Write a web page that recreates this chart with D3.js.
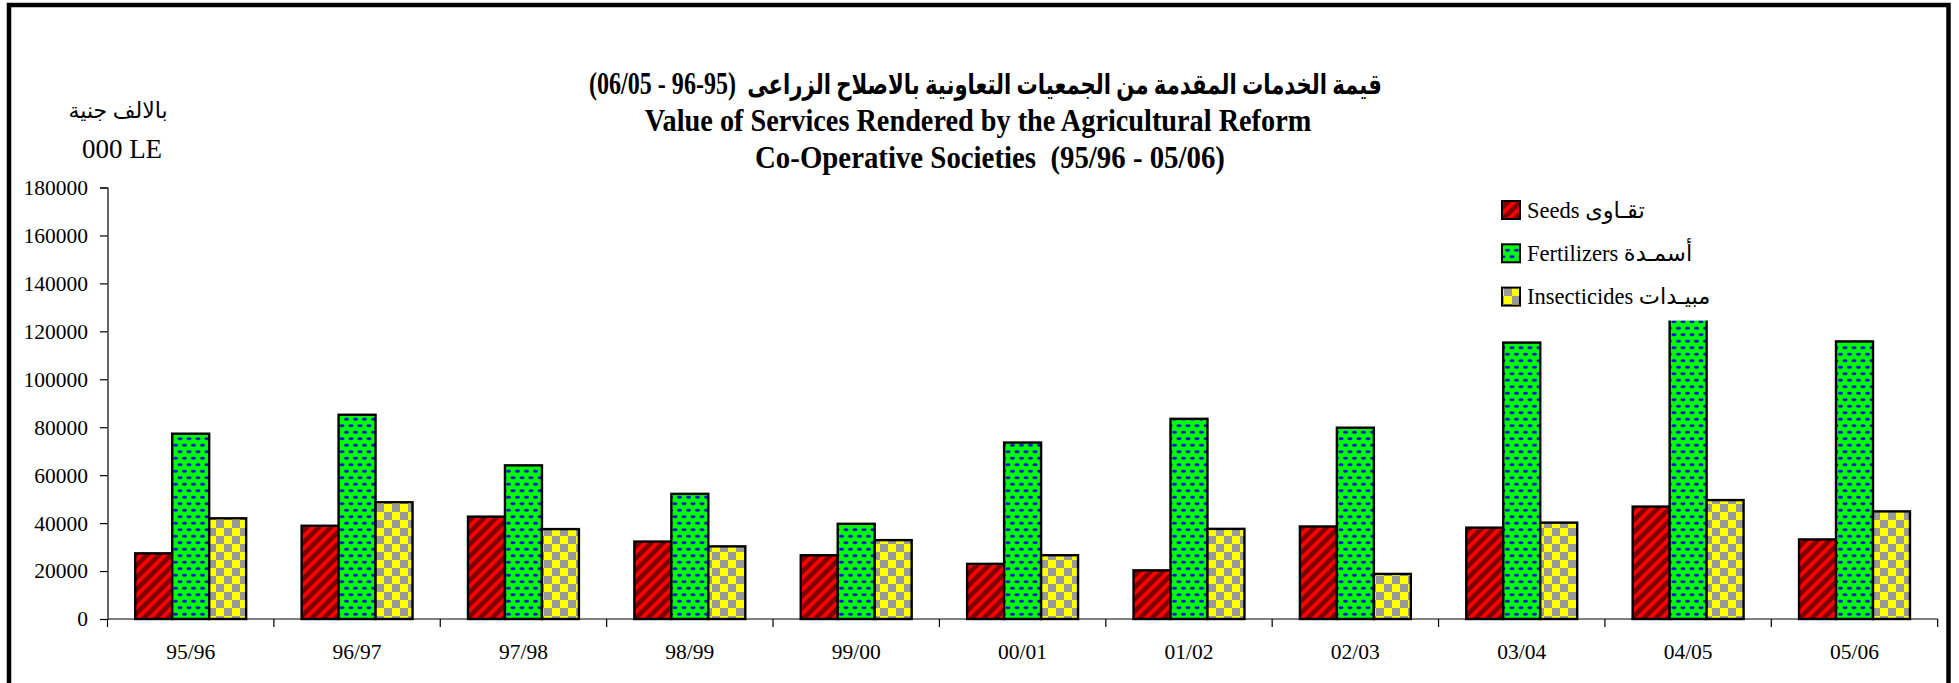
<!DOCTYPE html>
<html>
<head>
<meta charset="utf-8">
<script src="https://cdn.jsdelivr.net/npm/d3@7"></script>
<style>
  body { margin: 0; background: #fff; }
  svg { display: block; }
  text { font-family: "Liberation Serif", "Times New Roman", "DejaVu Sans", serif; fill: #000; white-space: pre; }
</style>
</head>
<body>
<svg width="1959" height="683"></svg>
<script>
// seasons on the x axis
let seasons = ["95/96", "96/97", "97/98", "98/99", "99/00", "00/01", "01/02", "02/03", "03/04", "04/05", "05/06"];

// values in 000 LE
let seeds        = [27400, 38900, 42700, 32300, 26600, 23000, 20300, 38600, 38100, 46900, 33200];
let fertilizers  = [77300, 85200, 64100, 52200, 39700, 73600, 83500, 79800, 115300, 131000, 115800];
let insecticides = [42000, 48700, 37500, 30300, 32900, 26600, 37600, 18800, 40200, 49600, 44900];

let seriesNames = ["Seeds تقـاوى", "Fertilizers أسمـدة", "Insecticides مبيـدات"];
let yTicks = [0, 20000, 40000, 60000, 80000, 100000, 120000, 140000, 160000, 180000];

let titleAr = "قيمة الخدمات المقدمة من الجمعيات التعاونية بالاصلاح الزراعى";
let titleArYears = "(06/05 - 96-95)";
let titleEn1 = "Value of Services Rendered by the Agricultural Reform";
let titleEn2 = "Co-Operative Societies  (95/96 - 05/06)";

var drawChart = function() {
  let svg = d3.select("svg");
  let margin = { left: 107.5, right: 1937.7, top: 187.5, bottom: 619 };

  // fill patterns like the excel ones
  let defs = svg.append("defs");

  let pSeeds = defs.append("pattern").attr("id", "pSeeds")
    .attr("patternUnits", "userSpaceOnUse").attr("width", 12).attr("height", 12);
  pSeeds.append("rect").attr("width", 12).attr("height", 12).attr("fill", "#800000");
  pSeeds.append("path")
    .attr("d", "M-3,3 L3,-3 M0,12 L12,0 M9,15 L15,9")
    .attr("stroke", "#ff0000").attr("stroke-width", 3.8);

  let pFert = defs.append("pattern").attr("id", "pFert")
    .attr("patternUnits", "userSpaceOnUse").attr("width", 9).attr("height", 13);
  pFert.append("rect").attr("width", 9).attr("height", 13).attr("fill", "#00ff00");
  [[4.5, 3.2], [0, 9.7], [9, 9.7]].forEach(function(p) {
    pFert.append("ellipse").attr("cx", p[0]).attr("cy", p[1]).attr("rx", 2.4).attr("ry", 1.3)
      .attr("fill", "#0000ff").attr("stroke", "#3030a0").attr("stroke-width", 0.5);
  });

  let pIns = defs.append("pattern").attr("id", "pIns")
    .attr("patternUnits", "userSpaceOnUse").attr("width", 16).attr("height", 16);
  pIns.append("rect").attr("width", 16).attr("height", 16).attr("fill", "#ffff00");
  pIns.append("rect").attr("width", 8).attr("height", 8).attr("fill", "#999999");
  pIns.append("rect").attr("x", 8).attr("y", 8).attr("width", 8).attr("height", 8).attr("fill", "#999999");

  let fills = ["url(#pSeeds)", "url(#pFert)", "url(#pIns)"];
  let series = [seeds, fertilizers, insecticides];

  let x = d3.scaleBand()
    .domain(seasons)
    .range([margin.left, margin.right])
    .paddingInner(0)
    .paddingOuter(0);

  let y = d3.scaleLinear()
    .domain([0, 180000])
    .range([margin.bottom, margin.top]);

  // excel gap width 150 -> bar = band / 4.5
  let barW = x.bandwidth() / 4.5;

  // y axis
  let yAxis = d3.axisLeft(y).tickValues(yTicks).tickSize(7.5).tickPadding(12)
    .tickFormat(d3.format("d"));
  let yGroup = svg.append("g").attr("transform", "translate(" + margin.left + ",0)").call(yAxis);
  yGroup.select(".domain").attr("stroke", "#000").attr("stroke-width", 1.2);
  yGroup.selectAll(".tick line").attr("stroke", "#000").attr("stroke-width", 1.2);
  yGroup.selectAll("text").attr("font-size", 21.5).attr("fill", "#000")
    .attr("font-family", "Liberation Serif, Times New Roman, serif");

  // bars
  series.forEach(function(vals, s) {
    svg.append("g").selectAll("rect")
      .data(vals)
      .enter().append("rect")
      .attr("x", function(d, i) { return x(seasons[i]) + 0.75 * barW + s * barW; })
      .attr("y", function(d) { return y(d); })
      .attr("width", barW)
      .attr("height", function(d) { return y(0) - y(d); })
      .attr("fill", fills[s])
      .attr("stroke", "#000")
      .attr("stroke-width", 2.4);
  });

  // x axis, ticks between the categories
  let xGroup = svg.append("g").attr("transform", "translate(0," + margin.bottom + ")");
  xGroup.append("line")
    .attr("x1", margin.left).attr("x2", margin.right)
    .attr("stroke", "#000").attr("stroke-width", 1.2);
  let bounds = seasons.map(function(d) { return x(d); }).concat([margin.right]);
  xGroup.selectAll("line.tk").data(bounds).enter().append("line")
    .attr("class", "tk")
    .attr("x1", function(d) { return d; }).attr("x2", function(d) { return d; })
    .attr("y1", 0).attr("y2", 8)
    .attr("stroke", "#000").attr("stroke-width", 1.2);
  xGroup.selectAll("text").data(seasons).enter().append("text")
    .attr("x", function(d) { return x(d) + x.bandwidth() / 2; })
    .attr("y", 40)
    .attr("text-anchor", "middle")
    .attr("font-size", 21.5)
    .text(function(d) { return d; });

  // legend, white box sits over the tall 04/05 bar
  let legend = svg.append("g");
  legend.append("rect").attr("x", 1492).attr("y", 186).attr("width", 240).attr("height", 134.5)
    .attr("fill", "#fff");
  seriesNames.forEach(function(name, s) {
    let cy = 210 + s * 43.3;
    legend.append("rect")
      .attr("x", 1502).attr("y", cy - 9).attr("width", 18).attr("height", 18)
      .attr("fill", fills[s]).attr("stroke", "#000").attr("stroke-width", 2);
    legend.append("text")
      .attr("x", 1527).attr("y", cy)
      .attr("dy", "0.35em")
      .attr("font-size", 22.5)
      .text(name);
  });

  // arabic title: words and years drawn apart so bidi can't reorder them
  let arWidth = 635, arRight = 1382;
  let arG = svg.append("g");
  let ar = arG.append("text")
    .attr("text-anchor", "middle")
    .attr("direction", "rtl")
    .attr("font-size", 28)
    .attr("font-weight", "bold")
    .attr("font-family", "DejaVu Sans, sans-serif")
    .text(titleAr);
  let wA = ar.node().getComputedTextLength();
  arG.attr("transform", "translate(" + (arRight - arWidth / 2) + ",94) scale(" + (arWidth / wA) + ",1)");

  let yrWidth = 147, yrLeft = 589;
  let yrG = svg.append("g");
  let yrs = yrG.append("text")
    .attr("text-anchor", "middle")
    .attr("font-size", 24)
    .attr("font-weight", "bold")
    .text(titleArYears);
  let wP = yrs.node().getComputedTextLength();
  yrG.attr("transform", "translate(" + (yrLeft + yrWidth / 2) + ",94) scale(" + (yrWidth / wP) + ",1.28)");

  // english titles, a bit taller than plain times
  [[titleEn1, 978, 131, 1.01], [titleEn2, 990, 168, 1.03]].forEach(function(t) {
    svg.append("g")
      .attr("transform", "translate(" + t[1] + "," + t[2] + ") scale(" + t[3] + ",1.12)")
      .append("text")
      .attr("text-anchor", "middle")
      .attr("font-size", 28)
      .attr("font-weight", "bold")
      .text(t[0]);
  });

  // unit label
  svg.append("text").attr("x", 118).attr("y", 118).attr("text-anchor", "middle")
    .attr("font-size", 22).text("بالالف جنية");
  svg.append("text").attr("x", 122).attr("y", 158).attr("text-anchor", "middle")
    .attr("font-size", 27).text("000 LE");

  // thick chart border
  svg.append("rect")
    .attr("x", 9).attr("y", 5).attr("width", 1939.5).attr("height", 720)
    .attr("fill", "none").attr("stroke", "#000").attr("stroke-width", 4.5);
}

drawChart();
</script>
</body>
</html>
